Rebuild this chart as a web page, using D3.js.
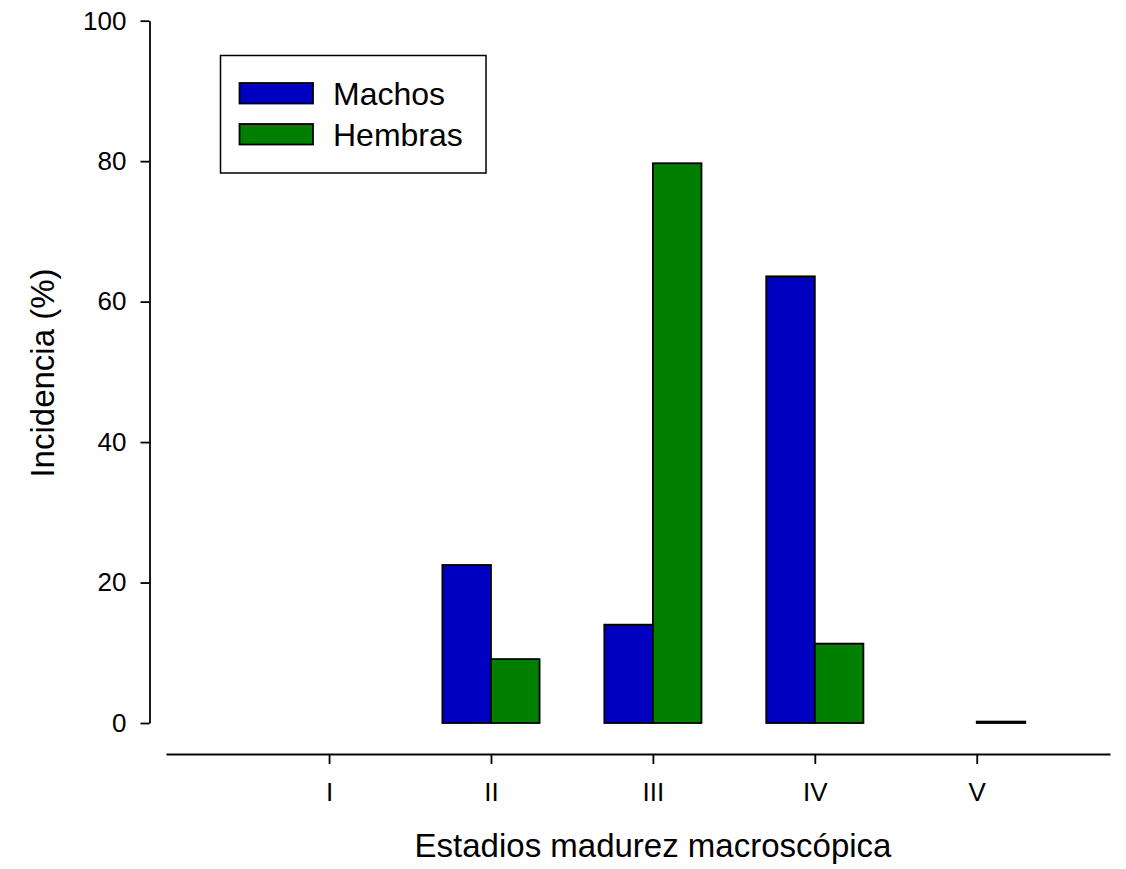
<!DOCTYPE html>
<html>
<head>
<meta charset="utf-8">
<script src="https://cdn.jsdelivr.net/npm/d3@7"></script>
<style>
  html, body { margin: 0; padding: 0; background: #fff; }
  svg { display: block; font-family: "Liberation Sans", Arial, sans-serif; }
</style>
</head>
<body>
<script>
const categories = ["I", "II", "III", "IV", "V"];
const machos   = [null, 22.5, 14.0, 63.6, null];
const hembras  = [null, 9.1, 79.7, 11.3, 0.2];
const seriesNames = ["Machos", "Hembras"];
const seriesColors = ["#0000c0", "#007f00"];
const yTicks = [0, 20, 40, 60, 80, 100];

const W = 1126, H = 869;
const svg = d3.select("body").append("svg").attr("width", W).attr("height", H);

const y = d3.scaleLinear().domain([0, 100]).range([723, 20.7]);
const xi = d3.scaleLinear().domain([-1.007, 4.823]).range([166, 1110]);
const step = xi(1) - xi(0);
const barW = step * 0.3;

// Y axis
const yAxis = svg.append("g").attr("transform", "translate(149.5,0)")
  .call(d3.axisLeft(y).tickValues(yTicks).tickSize(9).tickSizeOuter(0).tickPadding(14).tickFormat(d3.format("d")));
yAxis.select(".domain").attr("stroke", "#000").attr("stroke-width", 1.8);
yAxis.selectAll(".tick line").attr("stroke", "#000").attr("stroke-width", 1.8);
yAxis.selectAll(".tick text").attr("font-size", 26).attr("fill", "#000").attr("font-family", "Liberation Sans, Arial, sans-serif");

// X axis
const xAxisScale = d3.scaleLinear().domain(xi.domain()).range(xi.range());
const xAxis = svg.append("g").attr("transform", "translate(0,754)")
  .call(d3.axisBottom(xAxisScale).tickValues(d3.range(categories.length)).tickSize(10).tickSizeOuter(0).tickPadding(18.5).tickFormat(i => categories[i]));
xAxis.select(".domain").attr("stroke", "#000").attr("stroke-width", 1.8);
xAxis.selectAll(".tick line").attr("stroke", "#000").attr("stroke-width", 1.8);
xAxis.selectAll(".tick text").attr("font-size", 26).attr("fill", "#000").attr("font-family", "Liberation Sans, Arial, sans-serif");

// Bars
const series = [machos, hembras];
series.forEach((vals, s) => {
  svg.append("g").selectAll("rect")
    .data(vals.map((v, i) => ({v, i})).filter(d => d.v !== null))
    .join("rect")
    .attr("x", d => xi(d.i) + (s === 0 ? -barW : 0))
    .attr("width", barW)
    .attr("y", d => y(d.v))
    .attr("height", d => y(0) - y(d.v))
    .attr("fill", seriesColors[s])
    .attr("stroke", "#000")
    .attr("stroke-width", 1.8);
});

// Legend
const lg = svg.append("g");
lg.append("rect").attr("x", 220.5).attr("y", 55.5).attr("width", 265.5).attr("height", 117.5)
  .attr("fill", "#fff").attr("stroke", "#000").attr("stroke-width", 1.5);
seriesNames.forEach((name, s) => {
  const yy = 83 + s * 41;
  lg.append("rect").attr("x", 239.5).attr("y", yy).attr("width", 73.5).attr("height", 20.5)
    .attr("fill", seriesColors[s]).attr("stroke", "#000").attr("stroke-width", 1.8);
  lg.append("text").attr("x", 333).attr("y", yy + 22).attr("font-size", 32).attr("fill", "#000").text(name);
});

// Axis titles
svg.append("text").attr("x", 653).attr("y", 857).attr("text-anchor", "middle")
  .attr("font-size", 33).attr("fill", "#000").text("Estadios madurez macroscópica");
svg.append("text").attr("transform", "translate(54,373) rotate(-90)").attr("text-anchor", "middle")
  .attr("font-size", 33).attr("fill", "#000").text("Incidencia (%)");
</script>
</body>
</html>
